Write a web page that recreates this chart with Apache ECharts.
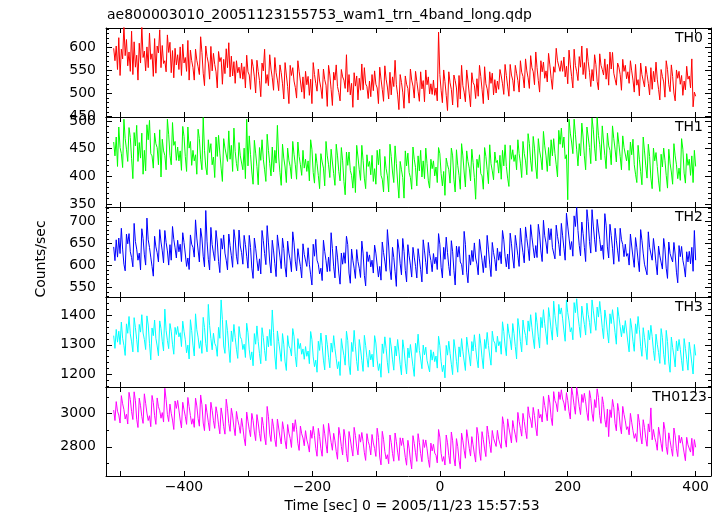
<!DOCTYPE html>
<html><head><meta charset="utf-8">
<script src="https://cdn.jsdelivr.net/npm/echarts@6/dist/echarts.min.js"></script>
<style>html,body{margin:0;padding:0;background:#fff}#c{width:722px;height:516px}</style>
</head><body><div id="c"></div>
<script>
const TITLE = "ae800003010_20051123155753_wam1_trn_4band_long.qdp";
const X_NAME = "Time [sec] 0 = 2005/11/23 15:57:53";
const Y_NAME = "Counts/sec";
const T_START = -510, T_STEP = 2;
const xTicks = [-500,-400,-300,-200,-100,0,100,200,300,400];
const xLabels = [-400,-200,0,200,400];
const bands = ["TH0","TH1","TH2","TH3","TH0123"];
const colors = ["#ff0000","#00ff00","#0000ff","#00ffff","#ff00ff"];
const yMin = [449,345,529,1157,2624];
const yMax = [642,507,732,1462,3160];
const yMajor = [[450,500,550,600],[350,400,450,500],[550,600,650,700],[1200,1300,1400],[2800,3000]];
const yMinorStep = [10,10,10,20,100];

const th0 = [
598,571,603,552,621,539,596,575,648,582,617,560,590,548,635,541,612,557,583,529,609,566,645,578,592,549,601,556,631,574,586,537,619,544,603,588,638,556,604,565,571,547,627,589,611,545,593,534,598,562,
584,552,601,539,607,566,578,548,615,529,594,571,556,529,596,572,558,541,623,589,544,517,603,580,566,531,602,549,587,563,547,512,591,569,578,520,574,543,597,556,610,536,581,538,569,522,571,545,557,533,
566,531,558,512,583,547,540,509,574,559,536,501,572,548,528,493,566,549,596,522,541,517,584,553,534,507,578,545,529,506,562,545,521,488,567,540,515,478,561,539,556,527,513,490,571,548,527,503,536,489,
548,519,537,496,531,478,567,541,522,505,553,527,512,489,553,530,518,472,561,540,509,474,546,529,562,515,502,484,552,536,529,511,584,503,541,497,522,470,545,516,538,486,533,507,564,508,556,521,515,489,
527,493,541,506,549,520,512,478,557,531,509,483,560,531,514,488,546,497,536,515,572,519,497,465,541,524,503,468,538,520,511,479,553,529,516,490,548,526,505,483,547,510,528,482,551,519,536,499,521,498,
529,496,512,484,633,541,507,480,551,526,496,463,547,523,509,475,540,528,512,470,539,488,561,517,503,482,551,527,499,471,545,524,518,489,532,494,561,537,509,478,558,521,510,486,547,522,544,497,530,501,
527,509,552,538,521,498,563,539,516,494,563,540,529,505,561,544,528,503,571,546,537,512,575,549,534,511,582,556,547,519,590,556,528,503,571,547,568,533,549,525,587,562,533,509,558,546,598,571,575,548,
571,548,579,536,559,521,594,562,537,512,596,561,547,528,580,557,603,541,567,532,598,569,546,515,552,527,584,563,526,508,586,561,552,540,575,531,563,518,590,553,589,544,531,518,566,557,541,507,574,548,
561,532,547,522,571,549,529,503,563,518,530,495,566,541,537,514,559,541,522,497,556,509,548,525,568,531,509,486,552,537,525,492,571,552,519,504,562,537,501,484,551,533,548,520,539,496,527,508,559,531,
538,512,575,471,503,494];
const th1 = [
462,437,471,418,489,452,441,416,503,468,449,427,488,470,432,396,479,455,492,427,461,433,478,404,447,410,493,466,501,441,437,415,478,459,452,421,484,399,467,446,438,412,503,475,438,421,497,456,463,429,
453,428,446,411,490,472,436,409,489,451,463,420,447,428,439,404,485,468,431,412,506,447,417,403,466,443,459,421,435,398,471,436,474,442,415,391,468,451,449,427,482,431,456,409,487,445,423,410,461,437,
437,412,451,396,503,419,473,439,408,386,465,442,418,385,452,429,466,431,412,391,476,447,423,401,453,408,447,424,492,435,407,384,458,433,417,389,451,429,418,396,463,440,421,395,462,436,421,402,447,415,
431,409,428,392,466,449,407,388,441,423,402,378,441,426,415,383,463,437,421,398,449,426,405,384,458,437,409,392,452,428,391,367,444,420,444,411,402,379,418,371,456,435,412,393,456,429,397,378,439,418,
427,403,438,391,414,386,447,421,449,402,395,372,436,414,401,372,458,436,408,389,455,423,390,361,427,412,398,361,446,419,442,407,398,377,453,431,416,383,437,410,447,399,428,396,451,423,392,379,431,414,
428,401,417,389,452,441,405,383,409,366,433,421,412,388,451,437,394,372,448,420,402,377,459,437,408,381,446,427,415,392,449,425,398,359,431,416,439,405,401,377,452,436,412,387,457,423,410,394,444,425,
429,406,438,395,447,419,457,418,397,382,456,431,448,427,439,412,466,441,424,398,463,441,428,403,477,459,428,409,472,451,417,396,468,446,433,412,481,455,437,409,452,419,466,437,468,441,421,399,483,458,
487,452,471,432,439,358,503,478,462,441,503,476,448,419,459,437,496,471,437,412,489,471,452,423,505,484,451,428,506,474,457,430,491,462,438,414,478,455,447,421,491,468,449,426,479,458,436,412,473,452,
452,428,447,411,462,439,467,421,404,389,456,431,409,385,471,446,419,397,458,436,397,378,451,428,443,418,392,373,440,417,451,429,402,379,449,424,408,386,459,437,421,396,415,393,468,449,406,388,441,420,
431,402,437,389,447,418];
const th2 = [
642,611,658,619,662,627,684,637,603,588,671,649,672,631,618,597,695,654,637,612,628,590,683,661,624,601,707,658,641,619,598,576,666,642,629,608,681,653,633,606,679,652,633,601,647,612,688,659,640,617,
657,631,648,609,674,652,626,598,617,591,669,648,641,619,703,662,635,608,684,662,621,597,724,655,614,590,686,647,628,611,679,653,609,584,661,637,669,628,612,590,671,645,622,596,681,658,621,603,680,644,
629,603,668,647,621,594,668,641,594,571,662,639,612,588,615,581,679,656,627,602,690,651,608,583,657,633,604,575,669,644,619,593,662,638,597,574,655,628,612,586,676,651,610,588,638,617,598,572,649,625,
621,598,640,603,579,556,648,621,659,612,603,581,594,566,657,632,611,586,619,587,674,638,597,572,644,619,583,558,628,603,629,605,666,647,583,560,637,612,594,571,636,609,594,573,655,628,578,554,631,609,
624,597,612,583,646,628,601,574,598,567,653,629,610,587,681,644,592,568,641,618,586,553,659,637,604,579,661,632,589,563,647,622,601,574,641,619,598,572,638,615,591,563,658,633,607,581,652,627,611,586,
627,604,619,591,672,648,596,572,641,614,664,629,598,577,656,631,589,556,644,619,643,608,602,579,677,648,585,561,624,601,634,609,651,617,603,579,659,635,612,584,622,595,668,637,603,575,652,629,613,588,
639,612,631,604,679,658,621,597,626,592,673,649,617,594,668,646,622,598,684,651,629,606,687,661,639,611,692,664,640,617,645,618,693,671,633,609,702,667,651,627,684,658,683,641,638,615,691,666,648,622,
695,667,639,612,718,689,662,636,654,621,712,688,731,679,645,622,698,672,641,609,726,699,654,628,726,689,658,631,704,680,659,633,646,614,717,691,642,617,693,668,639,603,684,657,633,609,684,658,647,620,
648,621,627,601,671,644,619,596,663,640,612,586,681,657,628,603,603,579,676,641,638,612,661,635,604,579,644,622,618,592,661,637,594,571,653,627,631,608,652,626,585,561,645,620,643,612,597,574,631,608,
632,604,641,587,679,612];
const th3 = [
1331,1288,1352,1309,1346,1301,1377,1322,1298,1264,1371,1339,1396,1337,1310,1276,1392,1358,1318,1275,1369,1343,1402,1340,1318,1284,1398,1367,1305,1249,1357,1331,1384,1322,1296,1263,1381,1355,1312,1279,1421,1348,1315,1287,1372,1346,1302,1268,1359,1335,
1362,1327,1341,1294,1380,1346,1317,1273,1299,1252,1385,1348,1299,1262,1405,1351,1326,1288,1314,1271,1393,1359,1304,1276,1437,1366,1322,1283,1339,1305,1295,1261,1359,1322,1452,1386,1296,1271,1383,1348,1289,1240,1347,1311,1369,1325,1285,1254,1362,1327,
1318,1284,1302,1257,1373,1341,1283,1249,1276,1229,1338,1302,1364,1311,1270,1236,1358,1325,1281,1246,1329,1293,1352,1297,1418,1342,1262,1217,1347,1311,1279,1244,1338,1302,1242,1213,1331,1296,1287,1262,1355,1329,1261,1225,1321,1287,1305,1268,1286,1251,
1294,1261,1279,1236,1345,1318,1259,1226,1248,1207,1312,1281,1340,1297,1248,1215,1333,1302,1258,1222,1306,1275,1331,1287,1253,1219,1243,1196,1321,1289,1264,1231,1346,1315,1231,1199,1308,1277,1349,1293,1243,1212,1318,1286,1247,1210,1332,1298,1257,1224,
1282,1249,1268,1225,1331,1306,1248,1213,1236,1190,1303,1271,1327,1288,1239,1204,1324,1293,1249,1214,1296,1262,1318,1276,1233,1198,1317,1285,1238,1201,1289,1256,1301,1262,1227,1193,1305,1274,1336,1281,1252,1219,1299,1266,1292,1247,1242,1208,1283,1248,
1276,1243,1262,1221,1329,1297,1243,1209,1231,1188,1298,1265,1312,1271,1234,1199,1318,1286,1244,1207,1293,1259,1321,1278,1245,1213,1326,1292,1262,1228,1311,1279,1334,1290,1251,1222,1337,1303,1256,1219,1318,1287,1342,1298,1262,1231,1346,1314,1306,1275,
1329,1297,1311,1268,1378,1345,1296,1263,1371,1339,1318,1283,1372,1338,1294,1252,1389,1357,1311,1276,1384,1351,1332,1299,1381,1346,1402,1358,1320,1287,1409,1375,1327,1289,1393,1358,1419,1372,1337,1301,1426,1392,1351,1316,1448,1399,1361,1327,1437,1404,
1425,1388,1347,1312,1452,1409,1381,1344,1358,1317,1443,1409,1456,1398,1362,1325,1431,1398,1369,1333,1441,1402,1376,1339,1452,1415,1381,1349,1428,1394,1447,1403,1358,1321,1418,1387,1343,1306,1405,1372,1419,1381,1341,1302,1427,1395,1362,1327,1366,1339,
1382,1347,1309,1276,1389,1357,1312,1278,1371,1338,1396,1351,1295,1261,1358,1324,1287,1250,1349,1317,1366,1328,1281,1247,1336,1302,1274,1237,1355,1324,1268,1233,1349,1311,1242,1207,1326,1291,1262,1225,1313,1279,1318,1284,1246,1212,1321,1288,1251,1214,
1309,1276,1238,1201,1301,1264];
const th0123 = [
3021,2958,3072,3014,2991,2943,3108,3059,3024,2967,2996,2937,3128,3085,3012,2964,3131,3077,2965,2916,3093,3047,2982,2941,3119,3062,3003,2958,2987,2921,3109,3066,2987,2935,3094,3041,3018,2972,3006,2949,3152,3084,2995,2952,3057,3002,2961,2904,3076,3031,
3079,3021,2962,2913,3068,3023,2984,2935,3097,3042,2988,2936,2969,2917,3093,3046,2971,2924,3112,3053,2943,2897,3056,3005,2948,2896,3068,3019,2957,2911,3041,2999,2932,2878,3034,2985,2921,2876,3087,3029,2940,2893,3032,2986,2918,2867,3013,2964,2928,2881,
2971,2917,2852,2806,3009,2954,2903,2861,3001,2958,2889,2837,2994,2943,2881,2833,2978,2929,2859,2812,3043,2981,2876,2832,2968,2920,2845,2801,2967,2913,2859,2817,2951,2903,2838,2788,2934,2882,2850,2796,2943,2892,2963,2904,2821,2778,2925,2878,2853,2806,
2897,2841,2812,2768,2899,2851,2923,2867,2790,2743,2911,2862,2789,2743,2934,2878,2816,2762,2941,2883,2827,2779,2881,2836,2772,2725,2917,2869,2802,2751,2905,2858,2758,2709,2892,2847,2792,2744,2917,2868,2799,2751,2874,2828,2886,2831,2764,2718,2879,2833,
2806,2751,2874,2823,2790,2742,2912,2857,2738,2691,2893,2845,2772,2726,2752,2698,2871,2826,2759,2713,2883,2831,2768,2717,2854,2808,2853,2797,2736,2689,2839,2792,2721,2667,2867,2821,2764,2712,2879,2826,2759,2710,2843,2796,2841,2788,2723,2676,2822,2775,
2815,2762,2749,2703,2904,2858,2761,2712,2741,2690,2871,2824,2747,2698,2889,2836,2732,2684,2849,2801,2719,2668,2882,2836,2779,2731,2903,2852,2791,2744,2861,2812,2756,2708,2917,2870,2769,2718,2891,2843,2787,2741,2925,2873,2814,2765,2898,2851,2857,2802,
2899,2846,2838,2791,2981,2935,2846,2798,2968,2914,2871,2823,2958,2910,2872,2827,3007,2953,2911,2864,3001,2952,2897,2849,3041,2986,2962,2915,3037,2988,2918,2866,3026,2973,2995,2949,3103,3049,3006,2957,3112,3064,2976,2928,3132,3078,3059,3011,3131,3085,
3143,3087,3064,3018,3126,3079,3012,2967,3157,3110,3048,2996,3158,3104,3041,2994,3115,3067,3122,3071,3005,2958,3138,3091,3002,2953,3084,3036,3149,3098,2989,2941,3101,3054,2965,2918,3027,2861,3023,2976,3085,3037,2941,2896,3061,3012,2925,2878,3043,2995,
2956,2904,2921,2872,3001,2948,2897,2851,2879,2831,2996,2948,2865,2817,2963,2917,2851,2803,2938,2889,3034,2842,2904,2856,2826,2779,2918,2871,2818,2772,2948,2903,2801,2754,2884,2837,2789,2743,2913,2866,2788,2741,2869,2822,2858,2811,2763,2716,2857,2812,
2812,2768,2851,2746,2843,2797];
const seriesValues = [th0, th1, th2, th3, th0123];

const FONT = '"DejaVu Sans", sans-serif';
const FS = 14;
const X_MIN = -522, X_MAX = 424;
const gridTops = [28, 117, 207, 297, 387];
const gridHeights = [89, 90, 90, 90, 89];
const GL = 106, GW = 605;

const fmtX = v => v < 0 ? '\u2212' + Math.abs(v) : String(v);
const fmtY = v => String(v);

const grids = [], xAxes = [], yAxes = [], series = [], graphics = [];
for (let i = 0; i < 5; i++) {
  grids.push({left: GL, top: gridTops[i], width: GW, height: gridHeights[i], show: false, containLabel: false});
  const axLine = {show: true, onZero: false, lineStyle: {color: '#000', width: 1}};
  ['bottom', 'top'].forEach(pos => {
    xAxes.push({
      type: 'value', gridIndex: i, position: pos, min: X_MIN, max: X_MAX,
      axisLine: axLine,
      axisTick: {show: true, inside: true, length: 5, lineStyle: {color: '#000'}, customValues: xTicks},
      axisLabel: {show: pos === 'bottom' && i === 4, customValues: xLabels, formatter: fmtX,
        color: '#000', fontFamily: FONT, fontSize: FS, margin: 4},
      splitLine: {show: false}
    });
  });
  const minors = [];
  const st = yMinorStep[i];
  for (let v = Math.ceil(yMin[i] / st) * st; v <= yMax[i]; v += st) {
    if (!yMajor[i].includes(v)) minors.push(v);
  }
  ['left', 'right'].forEach(pos => {
    yAxes.push({
      type: 'value', gridIndex: i, position: pos, min: yMin[i], max: yMax[i],
      axisLine: axLine,
      axisTick: {show: true, inside: true, length: 6, lineStyle: {color: '#000'}, customValues: yMajor[i]},
      axisLabel: {show: pos === 'left', customValues: yMajor[i], formatter: fmtY, color: '#000', fontFamily: FONT, fontSize: FS, margin: 10},
      splitLine: {show: false}
    });
    yAxes.push({
      type: 'value', gridIndex: i, position: pos, min: yMin[i], max: yMax[i],
      axisLine: {show: false, onZero: false},
      axisTick: {show: true, inside: true, length: 3, lineStyle: {color: '#000'}, customValues: minors},
      axisLabel: {show: false},
      splitLine: {show: false}
    });
  });
  const vals = seriesValues[i];
  series.push({
    type: 'line', xAxisIndex: i * 2, yAxisIndex: i * 4,
    data: vals.map((v, k) => [T_START + k * T_STEP, v]),
    showSymbol: false, symbol: 'none', clip: true, sampling: null,
    lineStyle: {color: colors[i], width: 1}, itemStyle: {color: colors[i]},
    animation: false, silent: true
  });
  graphics.push({
    type: 'text', x: i === 4 ? 707 : 703, y: gridTops[i] + 10,
    style: {text: bands[i], font: FS + 'px ' + FONT, fill: '#000', textAlign: 'right', textVerticalAlign: 'middle', align: 'right', verticalAlign: 'middle'}
  });
}
graphics.push({type: 'text', x: 107, y: 15,
  style: {text: TITLE, font: FS + 'px ' + FONT, fill: '#000', textAlign: 'left', textVerticalAlign: 'middle', align: 'left', verticalAlign: 'middle'}});
graphics.push({type: 'text', x: 412, y: 506,
  style: {text: X_NAME, font: FS + 'px ' + FONT, fill: '#000', textAlign: 'center', textVerticalAlign: 'middle', align: 'center', verticalAlign: 'middle'}});
graphics.push({type: 'text', x: 41, y: 259, rotation: Math.PI / 2,
  style: {text: Y_NAME, font: FS + 'px ' + FONT, fill: '#000', textAlign: 'center', textVerticalAlign: 'middle', align: 'center', verticalAlign: 'middle'}});

const chart = echarts.init(document.getElementById('c'), null, {renderer: 'canvas'});
chart.setOption({
  animation: false,
  backgroundColor: '#fff',
  grid: grids, xAxis: xAxes, yAxis: yAxes, series: series,
  graphic: graphics
});
</script></body></html>
